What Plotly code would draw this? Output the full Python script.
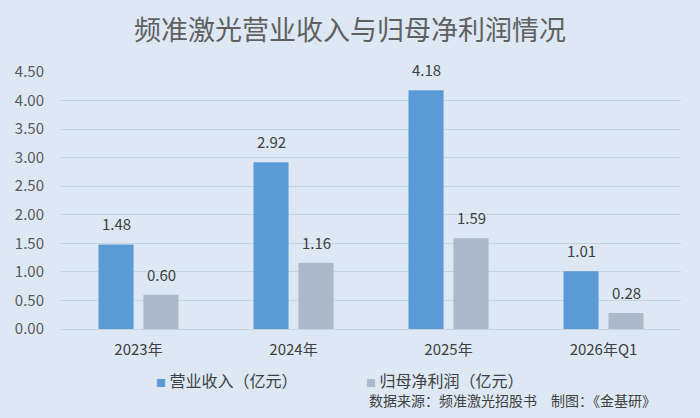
import plotly.graph_objects as go

categories = ["2023年", "2024年", "2025年", "2026年Q1"]
revenue = [1.48, 2.92, 4.18, 1.01]
net_profit = [0.60, 1.16, 1.59, 0.28]
tick_vals = [0, 0.5, 1, 1.5, 2, 2.5, 3, 3.5, 4, 4.5]
tick_text = ["0.00", "0.50", "1.00", "1.50", "2.00", "2.50", "3.00", "3.50", "4.00", "4.50"]
series_names = ["营业收入（亿元）", "归母净利润（亿元）"]
series_colors = ["#5b9bd5", "#adb9ca"]

FONT = "Noto Sans CJK SC, Noto Sans, sans-serif"
BG = "#dde8f4"

fig = go.Figure()
fig.add_trace(go.Bar(name=series_names[0], x=categories, y=revenue,
                     marker=dict(color=series_colors[0], line=dict(width=0))))
fig.add_trace(go.Bar(name=series_names[1], x=categories, y=net_profit,
                     marker=dict(color=series_colors[1], line=dict(width=0))))

annotations = []
for vals, shift in ((revenue, -22.5), (net_profit, 22.5)):
    for c, v in zip(categories, vals):
        annotations.append(dict(x=c, y=v, xref="x", yref="y", text=f"{v:.2f}",
                                showarrow=False, xshift=shift, yshift=8,
                                yanchor="bottom",
                                font=dict(family=FONT, size=15, color="#404040")))

# legend drawn as text entries
for name, color, lx in zip(series_names, series_colors, (0.150, 0.489)):
    annotations.append(dict(x=lx, y=-0.198, xref="paper", yref="paper", xanchor="left",
                            yanchor="middle", showarrow=False,
                            text=f"<span style='font-size:10px;color:{color}'>■</span> {name}",
                            font=dict(family=FONT, size=16, color="#404040")))

annotations.append(dict(x=0.494, y=-0.276, xref="paper", yref="paper", xanchor="left",
                        yanchor="middle", showarrow=False,
                        text="数据来源：频准激光招股书　制图：《金基研》",
                        font=dict(family=FONT, size=14, color="#404040")))

fig.update_layout(
    width=700, height=418,
    paper_bgcolor=BG, plot_bgcolor=BG,
    margin=dict(l=61, r=19, t=72, b=89),
    title=dict(text="频准激光营业收入与归母净利润情况", x=0.5, xanchor="center",
               y=0.928, yanchor="middle", yref="container",
               font=dict(family=FONT, size=27, color="#606060")),
    barmode="group", bargap=0.42, bargroupgap=0.22,
    font=dict(family=FONT, size=14, color="#595959"),
    showlegend=False,
    annotations=annotations,
    xaxis=dict(showgrid=False, showline=False, ticks="", ticklabelstandoff=10,
               tickfont=dict(family=FONT, size=15, color="#404040")),
    yaxis=dict(range=[0, 4.5], tickvals=tick_vals, ticktext=tick_text,
               showgrid=True, gridcolor="#c6d2df", gridwidth=1, zeroline=True,
               zerolinecolor="#c6d2df", zerolinewidth=1, showline=False,
               ticklabelstandoff=16,
               tickfont=dict(family=FONT, size=15, color="#595959")),
)

fig.write_html("out.html", config={"displayModeBar": False},
               post_script="document.body.style.margin='0';document.body.style.background='#dde8f4';")
